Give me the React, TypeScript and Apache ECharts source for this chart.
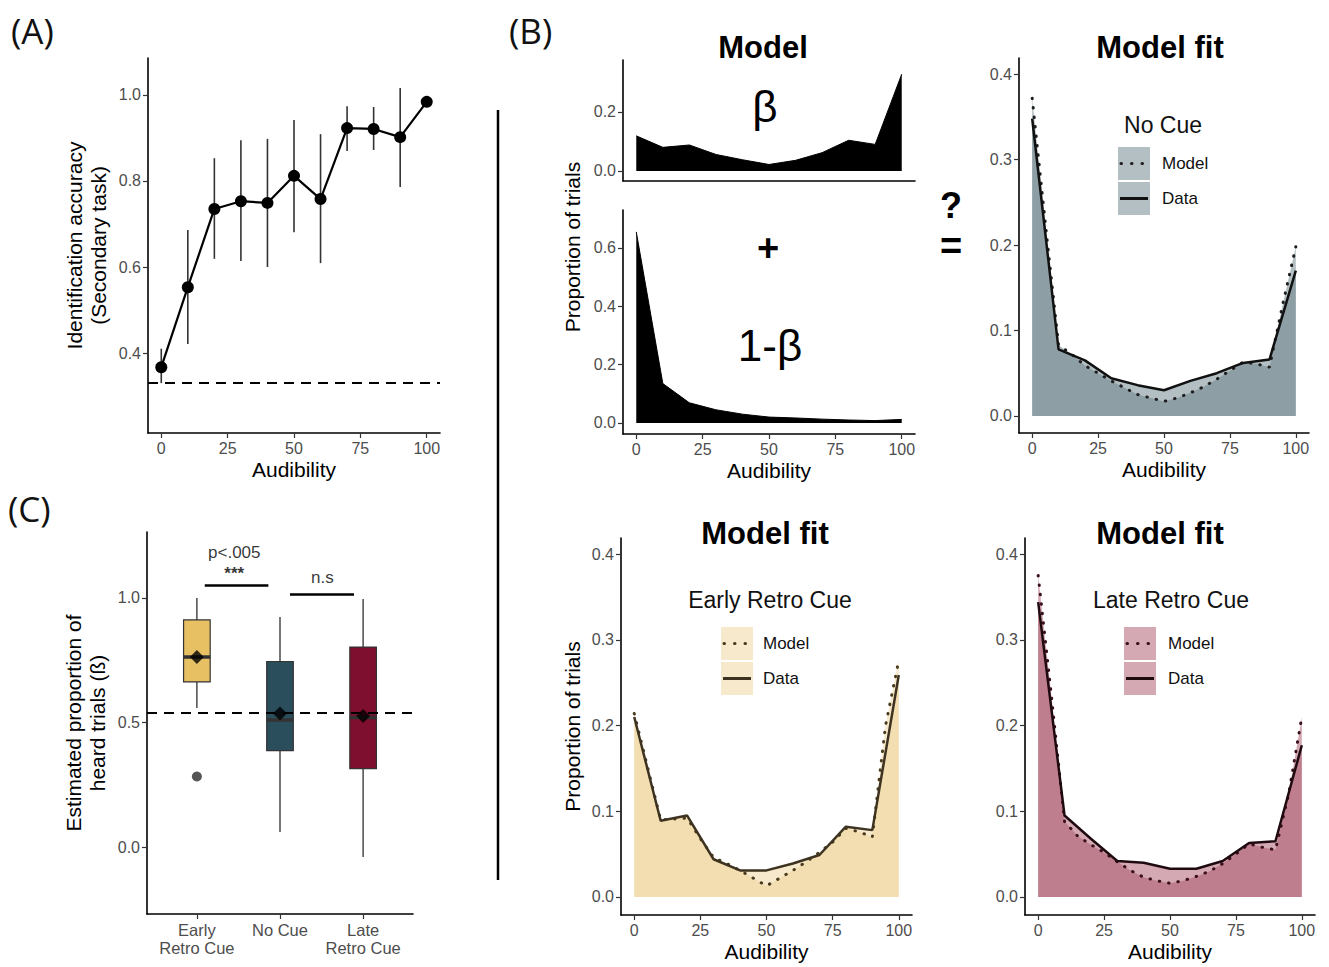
import React, { useEffect, useRef } from 'react';
import * as echarts from 'echarts';

// ---------- DATA ----------
const AUD_STEPS = [0, 10, 20, 30, 40, 50, 60, 70, 80, 90, 100];
const AUD_FINE = [0, 5, 10, 15, 20, 25, 30, 35, 40, 45, 50, 55, 60, 65, 70, 75, 80, 85, 90, 95, 100];
const AUD_TICKS = [0, 25, 50, 75, 100];

// Panel A: identification accuracy
const ACC_MEAN = [0.367, 0.553, 0.735, 0.753, 0.749, 0.812, 0.758, 0.923, 0.921, 0.902, 0.984];
const ACC_LOW = [0.33, 0.421, 0.619, 0.614, 0.6, 0.681, 0.609, 0.87, 0.872, 0.786, null];
const ACC_HIGH = [0.41, 0.686, 0.853, 0.895, 0.898, 0.942, 0.909, 0.974, 0.972, 1.016, null];
const ACC_CHANCE = 0.333;
const ACC_TICKS = [0.4, 0.6, 0.8, 1.0];

// Panel B: model components
const HEARD_DIST = [0.119, 0.08, 0.088, 0.056, 0.038, 0.022, 0.036, 0.062, 0.104, 0.09, 0.328];
const UNHEARD_DIST = [0.655, 0.135, 0.069, 0.045, 0.03, 0.02, 0.017, 0.013, 0.01, 0.008, 0.012];
const HEARD_TICKS = [0, 0.2];
const UNHEARD_TICKS = [0, 0.2, 0.4, 0.6];

// Model fits
const NOCUE_DATA = [0.348, 0.078, 0.065, 0.044, 0.036, 0.03, 0.041, 0.05, 0.062, 0.066, 0.17];
const NOCUE_MODEL = [0.372, 0.225, 0.083, 0.072, 0.059, 0.05, 0.041, 0.033, 0.025, 0.021, 0.017, 0.021, 0.027, 0.034, 0.043, 0.053, 0.063, 0.061, 0.057, 0.13, 0.198];
const EARLY_DATA = [0.21, 0.089, 0.095, 0.044, 0.031, 0.031, 0.039, 0.049, 0.082, 0.078, 0.259];
const EARLY_MODEL = [0.214, 0.152, 0.09, 0.091, 0.092, 0.068, 0.046, 0.039, 0.031, 0.022, 0.013, 0.022, 0.031, 0.041, 0.052, 0.064, 0.08, 0.076, 0.07, 0.2, 0.276];
const LATE_DATA = [0.344, 0.095, 0.068, 0.042, 0.04, 0.033, 0.033, 0.042, 0.063, 0.065, 0.177];
const LATE_MODEL = [0.375, 0.235, 0.088, 0.071, 0.061, 0.052, 0.041, 0.031, 0.023, 0.019, 0.016, 0.019, 0.024, 0.03, 0.039, 0.05, 0.062, 0.058, 0.055, 0.12, 0.21];
const FIT_TICKS = [0, 0.1, 0.2, 0.3, 0.4];

// Panel C: estimated beta per condition
const CUES = ['Early Retro Cue', 'No Cue', 'Late Retro Cue'];
const CUE_AXIS_LABELS = ['Early\nRetro Cue', 'No Cue', 'Late\nRetro Cue'];
const BOX_LOW = [0.558, 0.06, -0.04];
const BOX_Q1 = [0.663, 0.387, 0.315];
const BOX_MED = [0.763, 0.51, 0.52];
const BOX_Q3 = [0.912, 0.745, 0.803];
const BOX_HIGH = [1.0, 0.924, 0.996];
const BOX_MEAN = [0.763, 0.536, 0.526];
const OUTLIERS = [{ cue: 1, value: 0.283 }];
const BETA_REF = 0.536;
const BETA_TICKS = [0, 0.5, 1.0];
const SIG_BARS = [
  { x1: 1.095, x2: 1.86, y: 1.052 },
  { x1: 2.12, x2: 2.89, y: 1.016 },
];
const SIG_LABELS = [
  { x: 1.45, y: 1.181, text: 'p<.005', size: 17, weight: 'normal' },
  { x: 1.45, y: 1.098, text: '***', size: 17, weight: 'bold' },
  { x: 2.51, y: 1.084, text: 'n.s', size: 17, weight: 'normal' },
];

// ---------- STYLE ----------
const FONT = '"Liberation Sans", Arial, Helvetica, sans-serif';
const TICK_COLOR = '#4D4D4D';
const BOX_COLORS = ['#E8C064', '#2A4E5B', '#7E0F2E'];
const BOX_WIDTH = 0.32;
const FIT_STYLES = [
  { fill: 'rgba(104,127,135,0.5)', line: '#111111', dots: '#1e1e1e' },
  { fill: 'rgba(239,212,151,0.5)', line: '#3d3320', dots: '#4a3b1e' },
  { fill: 'rgba(170,83,104,0.5)', line: '#1f0a10', dots: '#3a0f1c' },
];

const GRIDS = [
  { left: 148, top: 58, width: 292, height: 375 }, // A
  { left: 147, top: 532, width: 266, height: 382 }, // C
  { left: 623, top: 60, width: 292, height: 121 }, // B heard
  { left: 623, top: 210, width: 292, height: 224 }, // B unheard
  { left: 1019, top: 58, width: 290, height: 375 }, // No cue fit
  { left: 621, top: 538, width: 291, height: 377 }, // Early fit
  { left: 1025, top: 538, width: 290, height: 377 }, // Late fit
];

const axisLine = { show: true, onZero: false, lineStyle: { color: '#000', width: 1.6 } };

function xAxisAud(gridIndex: number, showTicks: boolean, name?: string) {
  return {
    type: 'value',
    gridIndex,
    min: -5,
    max: 105,
    axisLine,
    axisTick: { show: showTicks, customValues: AUD_TICKS, length: 5, lineStyle: { color: '#333', width: 1.2 } },
    axisLabel: {
      show: showTicks,
      customValues: AUD_TICKS,
      color: TICK_COLOR,
      fontSize: 16,
      fontFamily: FONT,
      margin: 7,
    },
    splitLine: { show: false },
    name: name || '',
    nameLocation: 'middle',
    nameGap: 26,
    nameTextStyle: { fontSize: 21, color: '#000', fontFamily: FONT },
  };
}

function yAxisVal(gridIndex: number, min: number, max: number, ticks: number[], name?: string, nameGap = 38) {
  return {
    type: 'value',
    gridIndex,
    min,
    max,
    axisLine,
    axisTick: { show: true, customValues: ticks, length: 5, lineStyle: { color: '#333', width: 1.2 } },
    axisLabel: {
      customValues: ticks,
      formatter: (v: number) => v.toFixed(1),
      color: TICK_COLOR,
      fontSize: 16,
      fontFamily: FONT,
      margin: 7,
    },
    splitLine: { show: false },
    name: name || '',
    nameLocation: 'middle',
    nameGap,
    nameTextStyle: { fontSize: 21, color: '#000', fontFamily: FONT, lineHeight: 24 },
  };
}

function areaSeries(axisIndex: number, xs: number[], ys: number[], fill: string, lineColor: string, lineWidth: number, dotted: boolean) {
  return {
    type: 'line',
    xAxisIndex: axisIndex,
    yAxisIndex: axisIndex,
    data: xs.map((x, i) => [x, ys[i]]),
    symbol: 'none',
    silent: true,
    lineStyle: dotted
      ? { color: lineColor, width: 3, type: [0.5, 9], cap: 'round' }
      : { color: lineColor, width: lineWidth },
    areaStyle: { color: fill, opacity: 1 },
  };
}

function legendGraphic(title: string, tx: number, ty: number, kx: number, ky: number, lx: number, style: { fill: string; line: string; dots: string }) {
  const kw = 32;
  const kh = 33;
  const ky2 = ky + 35;
  const textFont = `17px ${FONT}`;
  return [
    { type: 'text', x: tx, y: ty, style: { text: title, font: `23px ${FONT}`, fill: '#111', textAlign: 'center', textVerticalAlign: 'middle' } },
    { type: 'rect', shape: { x: kx, y: ky, width: kw, height: kh }, style: { fill: style.fill } },
    { type: 'rect', shape: { x: kx, y: ky2, width: kw, height: kh }, style: { fill: style.fill } },
    { type: 'line', shape: { x1: kx + 3, y1: ky + kh / 2, x2: kx + kw - 2, y2: ky + kh / 2 }, style: { stroke: style.dots, lineWidth: 3, lineDash: [0.5, 10], lineCap: 'round' } },
    { type: 'line', shape: { x1: kx + 2, y1: ky2 + kh / 2, x2: kx + kw - 2, y2: ky2 + kh / 2 }, style: { stroke: style.line, lineWidth: 3 } },
    { type: 'text', x: lx, y: ky + kh / 2, style: { text: 'Model', font: textFont, fill: '#111', textAlign: 'left', textVerticalAlign: 'middle' } },
    { type: 'text', x: lx, y: ky2 + kh / 2, style: { text: 'Data', font: textFont, fill: '#111', textAlign: 'left', textVerticalAlign: 'middle' } },
  ];
}

function buildOption() {
  const boldTitle = `bold 31px ${FONT}`;
  const letterFont = `35px "Open Sans", ${FONT}`;
  const graphic: any[] = [
    { type: 'text', x: 11, y: 30, style: { text: '(A)', font: letterFont, fill: '#111', textAlign: 'left', textVerticalAlign: 'middle' } },
    { type: 'text', x: 509, y: 30, style: { text: '(B)', font: letterFont, fill: '#111', textAlign: 'left', textVerticalAlign: 'middle' } },
    { type: 'text', x: 8, y: 508, style: { text: '(C)', font: letterFont, fill: '#111', textAlign: 'left', textVerticalAlign: 'middle' } },
    { type: 'line', shape: { x1: 498, y1: 110, x2: 498, y2: 880 }, style: { stroke: '#000', lineWidth: 2.5 } },
    { type: 'text', x: 763, y: 47, style: { text: 'Model', font: boldTitle, fill: '#000', textAlign: 'center', textVerticalAlign: 'middle' } },
    { type: 'text', x: 1160, y: 47, style: { text: 'Model fit', font: boldTitle, fill: '#000', textAlign: 'center', textVerticalAlign: 'middle' } },
    { type: 'text', x: 765, y: 533, style: { text: 'Model fit', font: boldTitle, fill: '#000', textAlign: 'center', textVerticalAlign: 'middle' } },
    { type: 'text', x: 1160, y: 533, style: { text: 'Model fit', font: boldTitle, fill: '#000', textAlign: 'center', textVerticalAlign: 'middle' } },
    { type: 'text', x: 765, y: 106, style: { text: 'β', font: `44px ${FONT}`, fill: '#000', textAlign: 'center', textVerticalAlign: 'middle' } },
    { type: 'text', x: 768, y: 248, style: { text: '+', font: `bold 38px ${FONT}`, fill: '#000', textAlign: 'center', textVerticalAlign: 'middle' } },
    { type: 'text', x: 770, y: 345, style: { text: '1-β', font: `44px ${FONT}`, fill: '#000', textAlign: 'center', textVerticalAlign: 'middle' } },
    { type: 'text', x: 951, y: 205, style: { text: '?', font: `bold 36px ${FONT}`, fill: '#000', textAlign: 'center', textVerticalAlign: 'middle' } },
    { type: 'text', x: 951, y: 246, style: { text: '=', font: `bold 38px ${FONT}`, fill: '#000', textAlign: 'center', textVerticalAlign: 'middle' } },
    { type: 'text', x: 572, y: 247, rotation: Math.PI / 2, style: { text: 'Proportion of trials', font: `21px ${FONT}`, fill: '#000', textAlign: 'center', textVerticalAlign: 'middle' } },
    ...legendGraphic(CUES[1], 1163, 125, 1118, 147, 1162, FIT_STYLES[0]),
    ...legendGraphic(CUES[0], 770, 600, 721, 627, 763, FIT_STYLES[1]),
    ...legendGraphic(CUES[2], 1171, 600, 1124, 627, 1168, FIT_STYLES[2]),
  ];

  const xAxis = [
    xAxisAud(0, true, 'Audibility'),
    {
      type: 'value',
      gridIndex: 1,
      min: 0.4,
      max: 3.6,
      axisLine,
      axisTick: { show: true, customValues: [1, 2, 3], length: 5, lineStyle: { color: '#333', width: 1.2 } },
      axisLabel: {
        customValues: [1, 2, 3],
        formatter: (v: number) => CUE_AXIS_LABELS[Math.round(v) - 1] || '',
        color: TICK_COLOR,
        fontSize: 16.5,
        lineHeight: 18,
        fontFamily: FONT,
        margin: 7,
      },
      splitLine: { show: false },
    },
    xAxisAud(2, false),
    xAxisAud(3, true, 'Audibility'),
    xAxisAud(4, true, 'Audibility'),
    xAxisAud(5, true, 'Audibility'),
    xAxisAud(6, true, 'Audibility'),
  ];

  const yAxis = [
    yAxisVal(0, 0.214, 1.086, ACC_TICKS, 'Identification accuracy\n(Secondary task)', 38),
    yAxisVal(1, -0.269, 1.265, BETA_TICKS, 'Estimated proportion of\nheard trials (ß)', 38),
    yAxisVal(2, -0.034, 0.376, HEARD_TICKS),
    yAxisVal(3, -0.038, 0.73, UNHEARD_TICKS),
    yAxisVal(4, -0.02, 0.419, FIT_TICKS),
    yAxisVal(5, -0.021, 0.4187, FIT_TICKS, 'Proportion of trials', 37),
    yAxisVal(6, -0.021, 0.4187, FIT_TICKS),
  ];

  const series: any[] = [
    // Panel A error bars
    {
      type: 'custom',
      xAxisIndex: 0,
      yAxisIndex: 0,
      silent: true,
      data: AUD_STEPS.map((x, i) => [x, ACC_LOW[i], ACC_HIGH[i]]).filter((d) => d[1] != null),
      encode: { x: 0, y: [1, 2] },
      renderItem: (_p: any, api: any) => {
        const x = api.value(0);
        const a = api.coord([x, api.value(1)]);
        const b = api.coord([x, api.value(2)]);
        return { type: 'line', shape: { x1: a[0], y1: a[1], x2: b[0], y2: b[1] }, style: { stroke: '#333', lineWidth: 1.6 } };
      },
      z: 1,
    },
    {
      type: 'line',
      xAxisIndex: 0,
      yAxisIndex: 0,
      silent: true,
      data: AUD_STEPS.map((x, i) => [x, ACC_MEAN[i]]),
      symbol: 'circle',
      symbolSize: 12,
      itemStyle: { color: '#000' },
      lineStyle: { color: '#000', width: 2.2 },
      z: 3,
      markLine: {
        silent: true,
        symbol: 'none',
        label: { show: false },
        lineStyle: { color: '#000', width: 2, type: [10, 7] },
        data: [{ yAxis: ACC_CHANCE }],
      },
    },
    // Panel C boxes
    {
      type: 'custom',
      xAxisIndex: 1,
      yAxisIndex: 1,
      silent: true,
      data: CUES.map((_c, i) => [i + 1, BOX_LOW[i], BOX_Q1[i], BOX_MED[i], BOX_Q3[i], BOX_HIGH[i]]),
      encode: { x: 0, y: [1, 2, 3, 4, 5] },
      renderItem: (params: any, api: any) => {
        const x = api.value(0);
        const pLow = api.coord([x, api.value(1)]);
        const yQ1 = api.coord([x, api.value(2)])[1];
        const yMed = api.coord([x, api.value(3)])[1];
        const yQ3 = api.coord([x, api.value(4)])[1];
        const yHigh = api.coord([x, api.value(5)])[1];
        const cx = pLow[0];
        const half = api.size([BOX_WIDTH, 0])[0] / 2;
        const whisk = { stroke: '#555', lineWidth: 1.6 };
        return {
          type: 'group',
          children: [
            { type: 'line', shape: { x1: cx, y1: yHigh, x2: cx, y2: yQ3 }, style: whisk },
            { type: 'line', shape: { x1: cx, y1: yQ1, x2: cx, y2: pLow[1] }, style: whisk },
            { type: 'rect', shape: { x: cx - half, y: yQ3, width: 2 * half, height: yQ1 - yQ3 }, style: { fill: BOX_COLORS[params.dataIndex], stroke: '#333', lineWidth: 1.2 } },
            { type: 'line', shape: { x1: cx - half, y1: yMed, x2: cx + half, y2: yMed }, style: { stroke: '#333', lineWidth: 3.5 } },
          ],
        };
      },
      z: 2,
      markLine: {
        silent: true,
        symbol: 'none',
        label: { show: false },
        lineStyle: { color: '#000', width: 2, type: [10, 7] },
        data: [{ yAxis: BETA_REF }],
      },
    },
    {
      type: 'scatter',
      xAxisIndex: 1,
      yAxisIndex: 1,
      silent: true,
      data: BOX_MEAN.map((m, i) => [i + 1, m]),
      symbol: 'diamond',
      symbolSize: 14,
      itemStyle: { color: '#000' },
      z: 5,
    },
    {
      type: 'scatter',
      xAxisIndex: 1,
      yAxisIndex: 1,
      silent: true,
      data: OUTLIERS.map((o) => [o.cue, o.value]),
      symbol: 'circle',
      symbolSize: 10,
      itemStyle: { color: '#2b2b2b' },
      z: 5,
    },
    {
      type: 'scatter',
      xAxisIndex: 1,
      yAxisIndex: 1,
      silent: true,
      symbolSize: 0,
      itemStyle: { color: '#000' },
      data: SIG_LABELS.map((l) => ({
        value: [l.x, l.y],
        name: l.text,
        label: { fontSize: l.size, fontWeight: l.weight },
      })),
      label: { show: true, position: 'inside', formatter: '{b}', color: '#000', fontFamily: FONT },
      markLine: {
        silent: true,
        symbol: 'none',
        label: { show: false },
        lineStyle: { color: '#000', width: 2.6, type: 'solid' },
        data: SIG_BARS.map((b) => [{ coord: [b.x1, b.y] }, { coord: [b.x2, b.y] }]),
      },
      z: 6,
    },
    // Panel B components
    areaSeries(2, AUD_STEPS, HEARD_DIST, '#000', '#000', 1, false),
    areaSeries(3, AUD_STEPS, UNHEARD_DIST, '#000', '#000', 1, false),
    // Model fits
    areaSeries(4, AUD_FINE, NOCUE_MODEL, FIT_STYLES[0].fill, FIT_STYLES[0].dots, 3, true),
    areaSeries(4, AUD_STEPS, NOCUE_DATA, FIT_STYLES[0].fill, FIT_STYLES[0].line, 2.5, false),
    areaSeries(5, AUD_FINE, EARLY_MODEL, FIT_STYLES[1].fill, FIT_STYLES[1].dots, 3, true),
    areaSeries(5, AUD_STEPS, EARLY_DATA, FIT_STYLES[1].fill, FIT_STYLES[1].line, 2.5, false),
    areaSeries(6, AUD_FINE, LATE_MODEL, FIT_STYLES[2].fill, FIT_STYLES[2].dots, 3, true),
    areaSeries(6, AUD_STEPS, LATE_DATA, FIT_STYLES[2].fill, FIT_STYLES[2].line, 2.5, false),
  ];

  return {
    animation: false,
    backgroundColor: '#ffffff',
    textStyle: { fontFamily: FONT },
    grid: GRIDS,
    xAxis,
    yAxis,
    series,
    graphic,
  };
}

export default function App() {
  const ref = useRef<HTMLDivElement>(null);
  useEffect(() => {
    if (!ref.current) return;
    const chart = echarts.init(ref.current, undefined, { renderer: 'svg' });
    chart.setOption(buildOption() as any);
    return () => chart.dispose();
  }, []);
  return (
    <div
      ref={ref}
      style={{ position: 'absolute', left: 0, top: 0, width: 1329, height: 967, background: '#fff' }}
    />
  );
}
